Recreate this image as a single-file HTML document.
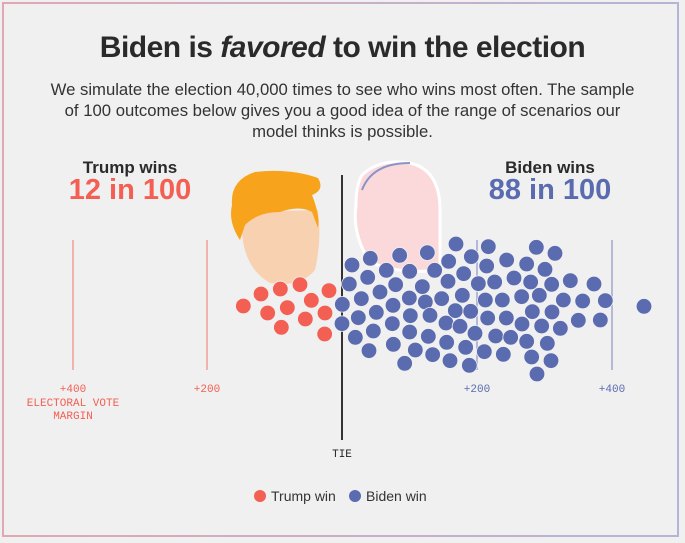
<!DOCTYPE html><html><head><meta charset="utf-8"><style>
body{margin:0;width:685px;height:543px;overflow:hidden;background:#f0f0f0;font-family:"Liberation Sans",sans-serif}
.f{position:absolute;left:0;top:0;width:685px;height:543px}
.b{position:absolute;left:2px;top:2px;width:677px;height:535px;border:2px solid;border-image:linear-gradient(90deg,#e0a8b4,#b4b4d8) 1;box-sizing:border-box}
.t{position:absolute;width:685px;text-align:center;white-space:nowrap}
</style></head><body>
<div class="b"></div>
<div class="t" style="top:31px;font-size:30px;font-weight:bold;color:#2a2a2a;letter-spacing:-0.5px">Biden is <i>favored</i> to win the election</div>
<div class="t" style="top:79px;font-size:16.7px;line-height:21px;color:#333">We simulate the election 40,000 times to see who wins most often. The sample<br>of 100 outcomes below gives you a good idea of the range of scenarios our<br>model thinks is possible.</div>
<div style="position:absolute;left:60px;width:140px;text-align:center;top:158px;font-size:17px;font-weight:bold;color:#2a2a2a">Trump wins</div>
<div style="position:absolute;left:60px;width:140px;text-align:center;top:174px;font-size:29px;font-weight:bold;color:#f35f52">12 in 100</div>
<div style="position:absolute;left:480px;width:140px;text-align:center;top:158px;font-size:17px;font-weight:bold;color:#2a2a2a">Biden wins</div>
<div style="position:absolute;left:480px;width:140px;text-align:center;top:174px;font-size:29px;font-weight:bold;color:#5b6bb0">88 in 100</div>
<svg class="f" id="s" viewBox="0 0 685 543">
<g stroke-width="1.2">
<line x1="73" y1="240" x2="73" y2="370" stroke="#f08a80"/>
<line x1="207" y1="240" x2="207" y2="370" stroke="#f08a80"/>
<line x1="477" y1="240" x2="477" y2="370" stroke="#8a94c8"/>
<line x1="612" y1="240" x2="612" y2="370" stroke="#8a94c8"/>
<line x1="342" y1="175" x2="342" y2="440" stroke="#333" stroke-width="2"/>
</g>
<g font-family="Liberation Mono,monospace" font-size="11" text-anchor="middle">
<text x="73" y="392" fill="#f35f52">+400</text>
<text x="73" y="406" fill="#f35f52">ELECTORAL VOTE</text>
<text x="73" y="419" fill="#f35f52">MARGIN</text>
<text x="207" y="392" fill="#f35f52">+200</text>
<text x="477" y="392" fill="#5b6bb0">+200</text>
<text x="612" y="392" fill="#5b6bb0">+400</text>
<text x="342" y="457" fill="#222">TIE</text>
</g>
<path d="M242 212 Q238 265 270 283 Q300 288 315 270 Q322 240 318 210 Z" fill="#f8d2b0"/>
<path d="M232 205 Q230 180 255 172 Q290 168 318 178 Q325 190 312 195 Q320 215 318 228 L312 212 Q300 205 280 212 Q258 212 245 225 L240 240 Q228 222 232 205Z" fill="#f8a31c"/>
<path d="M362 175 Q380 158 410 163 Q440 170 440 210 L440 270 Q400 275 370 262 Q352 235 356 205 Q356 185 362 175Z" fill="#fbd8da" stroke="#fff" stroke-width="3"/>
<path d="M362 190 Q372 163 410 163" fill="none" stroke="#8a94c8" stroke-width="2"/>
<g id="d"></g>
<circle cx="260" cy="496" r="6" fill="#f35f52"/>
<circle cx="355" cy="496" r="6" fill="#5b6bb0"/>
<text x="271" y="501" font-size="14" fill="#333">Trump win</text>
<text x="366" y="501" font-size="14" fill="#333">Biden win</text>
</svg>
<script>
var R=[[70,228],[123,192],[181,177],[240,164],[327,182],[143,249],[202,233],[274,211],[315,249],[184,292],[256,267],[314,312]];
var B=[[708,42],[805,50],[949,52],[1005,70],[539,76],[622,68],[451,85],[396,105],[754,80],[686,94],[860,90],[920,102],[800,108],[975,118],[499,121],[569,124],[644,121],[731,131],[443,142],[388,162],[527,164],[607,170],[684,154],[775,161],[824,156],[882,144],[932,156],[995,163],[1051,152],[1122,162],[480,186],[424,206],[367,223],[519,226],[568,204],[616,216],[665,206],[727,196],[796,210],[847,210],[905,200],[958,196],[1030,210],[1088,213],[1156,212],[1272,229],[366,281],[415,263],[469,247],[517,281],[571,257],[630,256],[706,242],[752,244],[803,264],[859,264],[937,245],[996,246],[1075,271],[1141,270],[678,279],[720,289],[906,282],[965,288],[1021,295],[406,322],[460,303],[569,306],[625,319],[680,337],[765,310],[827,318],[872,322],[920,334],[982,340],[447,362],[520,343],[586,360],[638,374],[737,352],[793,365],[850,373],[935,381],[993,392],[554,400],[690,392],[748,406],[951,432]];
var h='';
R.forEach(function(p){h+='<circle cx="'+(220+p[0]/3)+'" cy="'+(230+p[1]/3)+'" r="7.8" fill="#f35f52" stroke="#f0f0f0" stroke-width="0.8"/>'});
B.forEach(function(p){h+='<circle cx="'+(220+p[0]/3)+'" cy="'+(230+p[1]/3)+'" r="7.8" fill="#5b6bb0" stroke="#f0f0f0" stroke-width="0.8"/>'});
document.getElementById('d').innerHTML=h;
</script>
</body></html>
